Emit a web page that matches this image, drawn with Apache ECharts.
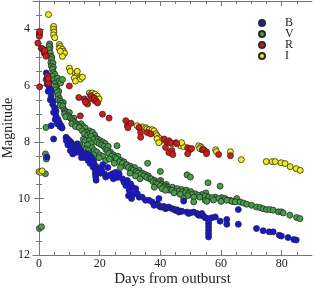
<!DOCTYPE html>
<html><head><meta charset="utf-8">
<script src="https://cdn.jsdelivr.net/npm/echarts@6/dist/echarts.min.js"></script>
<style>html,body{margin:0;padding:0;background:#fff}#c{width:315px;height:288px}</style>
</head><body><div id="c"></div>
<script>
const FONT = '"Liberation Serif", "DejaVu Serif", serif';
const seriesNames = ['B', 'V', 'R', 'I'];
const xMajorTicks = [0, 20, 40, 60, 80];
const xMinorTicks = [5, 10, 15, 25, 30, 35, 45, 50, 55, 65, 70, 75, 85];
const yMajorTicks = [4, 6, 8, 10, 12];
const yMinorTicks = [3.5, 4.5, 5, 5.5, 6.5, 7, 7.5, 8.5, 9, 9.5, 10.5, 11, 11.5];

const dataB = [
[2.4,5.55],[2.9,5.66],[2.4,5.78],[3.4,5.90],[2.7,5.95],[3.4,6.07],[4.0,6.19],[3.0,6.20],[4.0,6.37],[3.7,6.50],[4.5,6.54],[4.5,6.66],[5.1,6.78],[5.6,6.90],[4.8,6.95],[5.6,7.07],[6.2,7.19],[5.3,7.20],[6.7,7.31],[6.0,7.35],[7.3,7.42],[6.9,7.45],[7.6,7.50],
[4.0,7.42],[4.8,7.89],[2.6,8.53],
[8.9,7.83],[9.4,7.89],[10.0,7.95],[9.0,7.95],[10.6,8.01],[10.0,8.07],[9.5,8.10],[11.1,8.13],[11.1,8.24],[10.3,8.30],[11.6,8.30],[12.2,8.36],[11.1,8.42],
[12.6,8.06],[12.8,8.15],[13.2,8.20],[13.7,8.30],[13.0,8.36],[14.3,8.42],[14.0,8.55],
[15.5,8.40],[15.9,8.50],[16.4,8.45],[15.2,8.55],[16.9,8.60],[17.2,8.52],[16.2,8.65],[17.5,8.70],[18.0,8.65],[16.8,8.75],[18.3,8.80],[17.8,8.88],[19.2,8.90],[18.5,8.95],[18.6,9.05],[18.6,9.15],[18.7,9.25],[18.8,9.35],
[20.6,8.98],[21.0,8.80],[20.3,9.10],[21.5,9.12],[22.0,9.24],[22.7,8.90],[23.1,9.18],[24.2,9.12],[24.5,9.30],[25.3,9.07],[25.8,9.25],[26.4,9.12],
[27.5,9.30],[28.0,9.42],[28.6,9.54],[29.1,9.36],[29.7,9.71],[29.5,9.90],[30.2,9.48],[30.5,10.00],[30.8,9.60],[31.0,9.85],[31.9,9.65],[32.4,9.83],[33.0,9.95],[34.0,9.95],[35.1,10.06],
[36.2,10.06],[37.3,10.12],[37.9,10.24],[39.0,10.18],[39.5,10.0],[39.6,10.26],[40.1,10.30],[40.6,10.30],[41.2,10.28],[41.7,10.36],[42.3,10.33],[42.8,10.30],[43.9,10.36],[44.4,10.38],[45.0,10.42],[45.5,10.40],[46.1,10.48],[46.6,10.45],[47.1,10.45],[47.7,10.09],[48.8,10.48],[49.3,10.53],[50.0,10.50],[51.0,10.48],[52.1,10.53],[52.6,10.59],[53.2,10.59],[53.7,10.53],
[54.3,10.63],[54.8,10.68],[55.9,10.71],[57.0,10.68],[58.1,10.65],
[55.9,10.77],[55.9,10.88],[55.9,11.00],[55.9,11.12],[55.9,11.24],[55.9,11.36],
[59.7,10.80],[61.9,10.74],[61.9,10.91],[65.7,10.39],[65.7,10.91],[71.7,11.06],[73.9,11.14],[75.9,11.18],[77.2,11.18],[79.2,11.30],[79.9,11.33],[82.1,11.38],[84.0,11.45],[84.8,11.47]
];

const dataV = [
[0.1,11.06],[0.8,11.0],[2.1,8.42],[2.4,8.6],[2.1,9.12],[2.3,7.48],
[3.5,4.52],[3.6,4.65],[3.3,4.60],[3.3,4.72],[3.7,4.84],[3.9,4.96],[4.2,5.0],[4.1,5.07],[3.9,5.19],[4.6,5.2],[4.1,5.31],[4.7,5.35],[4.4,5.42],[4.8,5.54],[5.2,5.6],[4.4,5.66],[5.0,5.78],[5.5,5.90],[5.8,6.01],[5.4,6.05],
[6.1,5.73],[6.6,5.84],[7.1,5.90],[7.7,5.78],
[5.6,6.15],[6.5,6.20],[6.0,6.25],[6.3,6.35],[6.7,6.45],[6.2,6.50],[7.0,6.55],[8.0,6.60],[7.3,6.62],[6.9,6.70],[7.8,6.72],
[8.2,6.85],[8.6,6.90],[9.0,6.95],[10.0,6.95],[8.4,7.00],[9.4,7.05],[9.8,7.10],[8.8,7.10],
[10.3,7.15],[11.5,7.15],[10.8,7.20],[11.2,7.25],[11.7,7.30],[10.8,7.35],[12.2,7.35],[13.8,7.35],[12.6,7.40],[13.1,7.45],[12.0,7.45],[14.5,7.45],[13.3,7.49],[15.2,7.50],[14.3,7.60],[16.6,7.60],[15.5,7.65],[14.9,7.70],[16.0,7.75],
[16.8,7.70],[17.6,7.65],[18.3,7.75],[17.2,7.80],[18.7,7.85],[18.0,7.90],[19.4,7.90],[14.6,7.90],[20.2,7.95],[15.3,7.95],[16.5,7.95],[19.0,8.00],[21.0,8.00],[19.8,8.05],[17.0,8.05],[21.8,8.05],[20.6,8.10],[16.0,8.10],[13.5,8.10],[21.4,8.15],[14.3,8.20],[17.5,8.20],[22.0,8.25],[15.5,8.25],[18.2,8.30],[16.2,8.30],[19.0,8.35],[16.6,8.41],[18.0,8.45],[20.0,8.45],[21.0,8.50],[19.8,8.55],[22.0,8.65],
[22.8,8.15],[22.5,8.30],[23.5,8.35],[23.0,8.40],[24.5,8.45],[24.0,8.50],[26.0,8.50],[25.0,8.55],[25.5,8.60],[23.2,8.60],[27.0,8.65],[26.5,8.70],[28.0,8.70],[27.5,8.75],[24.8,8.75],[28.5,8.85],[26.8,8.90],[25.7,8.13],
[29.0,8.80],[30.0,8.85],[29.5,8.90],[31.5,8.90],[30.5,8.95],[31.0,9.00],[33.0,9.00],[32.0,9.05],[32.5,9.10],[34.0,9.10],[30.0,9.10],[33.5,9.15],[35.0,9.15],[34.5,9.20],[36.0,9.20],[31.8,9.20],[35.5,9.25],[36.5,9.30],[33.3,9.30],[35.8,8.75],[40.0,9.04],
[37.0,9.30],[38.0,9.35],[40.1,9.36],[37.5,9.40],[39.5,9.40],[38.5,9.45],[40.1,9.47],[39.0,9.50],[40.5,9.50],[42.0,9.50],[40.0,9.55],[41.5,9.55],[41.0,9.60],[38.0,9.60],[44.0,9.60],[42.5,9.60],[42.0,9.65],[40.6,9.65],[45.5,9.65],[47.0,9.68],[42.8,9.68],[43.0,9.70],[48.5,9.70],[41.7,9.71],[43.9,9.71],[45.0,9.75],[46.1,9.75],[50.0,9.75],[47.2,9.77],[48.3,9.79],[44.5,9.80],[55.0,9.80],[49.3,9.83],[51.5,9.83],[46.5,9.85],[50.4,9.86],[53.7,9.86],[52.6,9.89],[49.0,9.90],[54.8,9.91],[51.0,9.95],[53.0,9.95],[55.9,9.95],[58.1,9.95],[57.0,9.97],[60.3,9.97],[59.2,10.00],[61.4,10.00],[65.2,10.00],[57.5,10.05],[63.0,10.06],[61.9,10.06],[60.0,10.10],[64.1,10.10],[63.6,10.10],[64.7,10.12],[66.3,10.12],[67.4,10.16],[68.5,10.20],[70.1,10.24],[71.7,10.30],[72.9,10.32],[73.9,10.36],[75.0,10.39],[76.1,10.39],[77.2,10.41],[78.9,10.47],[79.9,10.47],[80.5,10.51],[82.7,10.59],[84.9,10.67],[86.0,10.71],
[54.8,10.06],[55.3,10.10],
[48.8,9.16],[49.9,9.24],[55.7,9.44],[59.7,9.56],[47.7,10.0],[51.0,10.12]
];

const dataR = [
[0.1,4.13],[0.1,4.19],[0.1,4.25],[0.2,4.08],[-0.4,4.49],[0.7,4.67],[1.2,4.70],[1.6,4.78],[1.7,4.85],[2.2,4.90],[2.3,4.96],[1.9,4.75],
[0.2,6.04],
[2.8,5.66],[2.8,5.84],[3.1,5.91],[3.0,5.75],
[10.0,6.01],[13.1,6.42],[13.6,7.07],[14.9,6.47],[15.5,6.54],[15.7,6.61],[16.0,6.65],[15.3,6.58],[17.1,6.37],[17.6,6.47],[18.2,6.44],[18.8,6.54],[19.3,6.61],
[20.9,7.01],[23.1,7.15],
[28.6,7.24],[29.1,7.42],[29.7,7.36],[29.3,7.49],[30.3,7.33],
[33.0,7.48],[33.5,7.66],[33.5,7.83],
[35.7,7.66],[36.8,7.71],
[41.2,7.89],[42.2,8.01],[41.7,8.19],[42.8,7.95],[43.4,8.02],[45.1,8.02],[45.4,8.06],
[42.8,8.37],[43.8,8.30],[44.1,8.44],
[49.0,8.20],[49.7,8.27],[50.3,8.23],[49.0,8.41],
[53.8,8.27],[54.3,8.27],[55.2,8.34],[55.2,8.41],[59.2,8.44],[63.1,8.48]
];

const dataI = [
[3.1,3.48],
[4.8,3.90],[4.8,4.00],[4.9,4.10],[4.8,4.20],[5.2,4.30],
[6.7,4.54],[7.0,4.61],[6.7,4.68],[7.7,4.71],[8.0,4.78],[8.4,4.85],[7.7,4.96],[7.0,4.78],
[10.0,5.38],[10.3,5.49],[12.0,5.56],[12.6,5.63],[13.3,5.73],[11.6,5.73],[13.6,5.77],[14.3,5.70],[12.0,5.84],[12.6,5.49],
[16.6,6.26],[17.5,6.26],[18.5,6.30],[19.2,6.37],[18.2,6.44],[19.8,6.47],[18.5,6.54],[16.9,6.33],
[0.0,9.05],[0.5,9.07],[1.0,9.02],
[32.3,7.42],[33.0,7.49],[34.0,7.46],[35.2,7.49],[35.6,7.53],[36.3,7.56],[37.3,7.56],[37.9,7.60],[38.5,7.70],[38.9,7.77],[39.5,7.85],[40.2,7.95],[38.9,7.88],
[39.5,8.02],[41.8,7.95],[43.8,8.06],[46.7,8.13],[47.7,8.16],[47.0,8.02],
[52.6,8.13],[53.3,8.16],[53.6,8.20],[53.0,8.23],[58.2,8.27],[58.5,8.34],[63.1,8.34],
[66.7,8.62],
[74.9,8.69],[76.9,8.69],[77.9,8.69],[79.8,8.73],[81.1,8.76],[82.8,8.87],[84.8,8.94],[86.1,9.00]
];

const seriesData = { B: dataB, V: dataV, R: dataR, I: dataI };
const seriesColors = { B: '#1212f2', V: '#43a043', R: '#e81212', I: '#f4ef00' };
const seriesZ = { B: 3, V: 2, R: 5, I: 4 };

const AX = '#777';
const xRange = { min: -2, max: 90 };
const yRange = { min: 3, max: 12 };
const gridBox = { left: 33, right: 3, top: 1, bottom: 33, containLabel: false, outerBoundsMode: 'none' };

function xAx(gridIndex, position, ticks, len, opts) {
  return Object.assign({
    type: 'value', gridIndex, position, min: xRange.min, max: xRange.max,
    axisLine: { show: gridIndex === 0, lineStyle: { color: AX, width: 1 } },
    axisTick: { show: true, inside: true, length: len, customValues: ticks, lineStyle: { color: AX } },
    axisLabel: { show: false },
    splitLine: { show: false }
  }, opts || {});
}
function yAx(gridIndex, position, ticks, len, opts) {
  return Object.assign({
    type: 'value', gridIndex, position, min: yRange.min, max: yRange.max, inverse: true,
    axisLine: { show: gridIndex === 0, lineStyle: { color: AX, width: 1 } },
    axisTick: { show: true, inside: true, length: len, customValues: ticks, lineStyle: { color: AX } },
    axisLabel: { show: false },
    splitLine: { show: false }
  }, opts || {});
}

const chart = echarts.init(document.getElementById('c'), null, { renderer: 'canvas' });
chart.setOption({
  animation: false,
  backgroundColor: '#fff',
  textStyle: { fontFamily: FONT },
  grid: [Object.assign({}, gridBox), Object.assign({}, gridBox)],
  legend: {
    data: seriesNames, orient: 'vertical', left: 258, top: 17, padding: 0,
    itemWidth: 6, itemHeight: 6, itemGap: -1, icon: 'circle',
    textStyle: { fontFamily: FONT, fontSize: 12, lineHeight: 12, color: '#222', padding: [0, 0, 0, 15] }
  },
  xAxis: [
    xAx(0, 'bottom', xMajorTicks, 5, {
      axisLabel: { show: true, customValues: xMajorTicks, color: '#222', fontFamily: FONT, fontSize: 12, margin: 3, hideOverlap: false },
      name: 'Days from outburst', nameLocation: 'middle', nameGap: 17, nameMoveOverlap: false,
      nameTextStyle: { fontFamily: FONT, fontSize: 15, color: '#222' }
    }),
    xAx(0, 'top', xMajorTicks, 5),
    xAx(1, 'bottom', xMinorTicks, 3),
    xAx(1, 'top', xMinorTicks, 3)
  ],
  yAxis: [
    yAx(0, 'left', yMajorTicks, 5, {
      axisLabel: { show: true, customValues: yMajorTicks, color: '#222', fontFamily: FONT, fontSize: 12, margin: 3, hideOverlap: false },
      name: 'Magnitude', nameLocation: 'middle', nameGap: 18, nameMoveOverlap: false,
      nameTextStyle: { fontFamily: FONT, fontSize: 14, color: '#222' }
    }),
    yAx(0, 'right', yMajorTicks, 5),
    yAx(1, 'left', yMinorTicks, 3),
    yAx(1, 'right', yMinorTicks, 3)
  ],
  series: seriesNames.map(n => ({
    name: n, type: 'scatter', xAxisIndex: 0, yAxisIndex: 0, z: seriesZ[n],
    symbol: 'circle', symbolSize: 6,
    itemStyle: { color: seriesColors[n], borderColor: '#2a2a2a', borderWidth: 0.8, opacity: 1 },
    emphasis: { disabled: true },
    data: seriesData[n]
  }))
});
</script></body></html>
